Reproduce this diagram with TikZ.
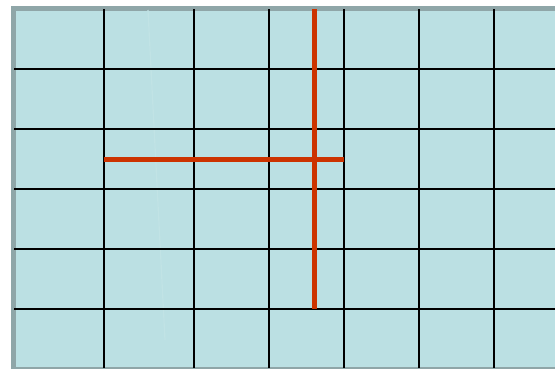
\documentclass[tikz,border=0pt]{standalone}
\usepackage{xcolor}
\definecolor{Water}   {RGB}{187, 224, 227}
\definecolor{Frame}   {RGB}{143, 166, 168}
\definecolor{Faint}   {RGB}{193, 227, 229}
\definecolor{Brick}   {RGB}{204,  51,   0}
\usepackage{tikz}
\usetikzlibrary{calc}

\begin{document}
\begin{tikzpicture}[x=1pt, y=-1pt,
  gridline/.style = {draw=black, line width=2pt},
  redbar/.style   = {draw=Brick, line width=5pt}
]
  \useasboundingbox (0,0) rectangle (555,368);

  %% sheet with grey frame
  \begin{scope}
    \clip (0,0) rectangle (555,368);
    \draw[Frame, fill=Water, line width=5pt]
      (13.5,8.5) rectangle (580,369);
  \end{scope}

  %% faint stroke
  \draw[Faint, line width=1.2pt] (148,10) -- (165,340);

  %% grid
  \foreach \gx in {104,194,269,344,419,494}
    \draw[gridline] (\gx,9) -- (\gx,368);
  \foreach \gy in {69,129,189,249,309}
    \draw[gridline] (14,\gy) -- (555,\gy);

  %% red cross
  \coordinate (hl) at (104,159);
  \coordinate (hr) at (344,159);
  \coordinate (vt) at (314,9);
  \coordinate (vb) at (314,309);
  \draw[redbar] (hl) -- (hr);
  \draw[redbar] (vt) -- (vb);
\end{tikzpicture}
\end{document}
